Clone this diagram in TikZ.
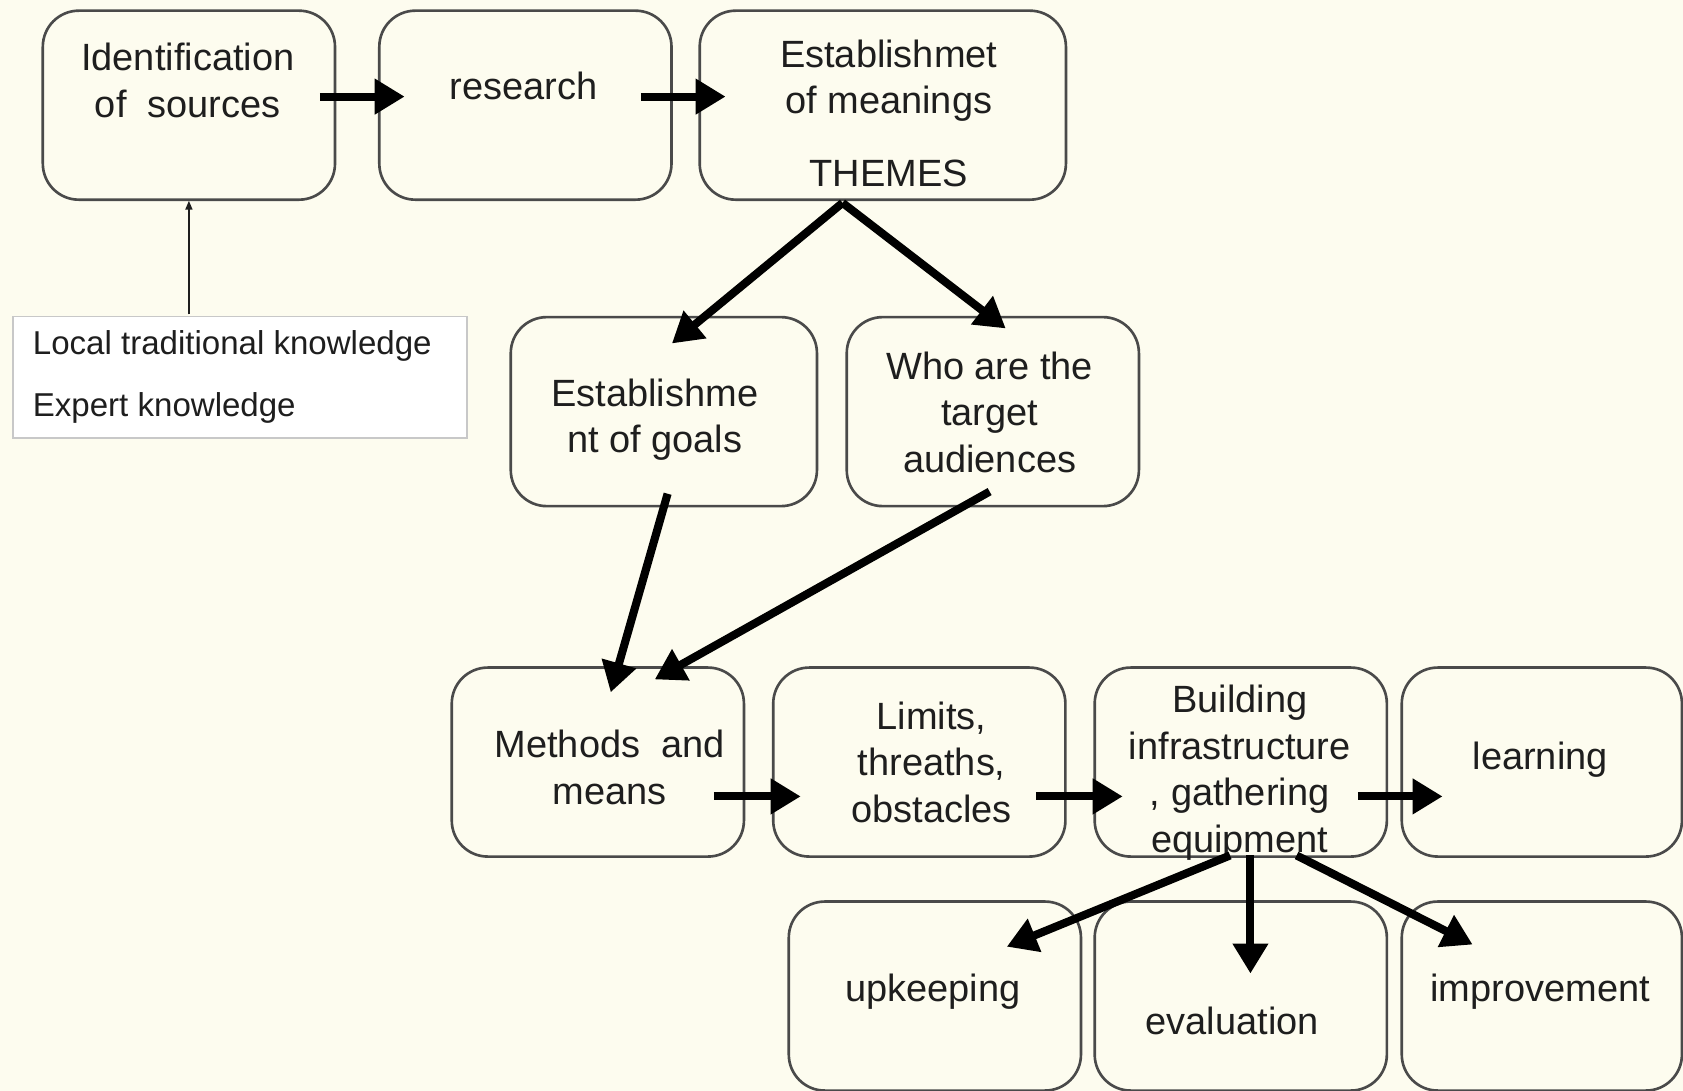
\documentclass[tikz,border=0pt]{standalone}
\usepackage{fontspec}
\setmainfont{Liberation Sans}
\usetikzlibrary{arrows.meta}
\definecolor{paper}{HTML}{FDFCEF}
\definecolor{edge}{HTML}{4A4A4A}
\definecolor{faint}{HTML}{C8C8C8}
\definecolor{ink}{HTML}{1E1E1E}
\begin{document}
\begin{tikzpicture}[x=0.010733cm,y=-0.010733cm,
  stage/.style={draw=edge, line width=0.75pt, rounded corners=0.36cm,
    minimum height=1.889cm, inner sep=0pt},
  w272/.style={minimum width=2.92cm},
  w261/.style={minimum width=2.80cm},
  label/.style={text=ink, align=center, inner sep=0pt,
    font=\fontsize{10.8}{13.2}\selectfont},
  note/.style={text=ink, align=left, inner sep=0pt, anchor=west,
    font=\fontsize{9.4}{11}\selectfont},
  flow/.style={draw=black, line width=2.3pt,
    -{Triangle[length=0.30cm,width=0.34cm]}},
  feed/.style={draw=ink, line width=0.5pt,
    -{Triangle[length=0.09cm,width=0.07cm]}},
]
% page
\fill[paper] (0,0) rectangle (1568,1016);
\useasboundingbox (0,0) rectangle (1568,1016);
\clip (0,0) rectangle (1568,1016);

% --- top row
\node[stage, w272] (src) at (176,98) {};
\node[stage, w272] (res) at (489.5,98) {};
\node[stage, minimum width=3.66cm] (mean) at (822.5,98) {};
\node[label] (srcT) at (175,75) {Identification\\of\ \ sources};
\node[label] (resT) at (488,80) {research};
\node[label] (meanT) at (828,75) {Establishmet\\of meanings};
\node[label] (themT) at (828,162) {THEMES};

% --- knowledge inputs
\node[draw=faint, fill=white, line width=0.5pt, minimum width=4.54cm,
  minimum height=1.213cm, inner sep=0pt] (know) at (223.5,351.5) {};
\node[note] (knowA) at (30,322) {Local traditional knowledge};
\node[note] (knowB) at (30,380) {Expert knowledge};

% --- second row
\node[stage, minimum width=3.06cm] (goal) at (618.5,383.5) {};
\node[stage, w272] (aud) at (925,383.5) {};
\node[label] (goalT) at (610,391) {Establishme\\nt of goals};
\node[label] (audT) at (922,384) {Who are the\\target\\audiences};

% --- third row
\node[stage, w272] (meth) at (557,710) {};
\node[stage, w272] (lim) at (856.5,710) {};
\node[stage, w272] (build) at (1156,710) {};
\node[stage, w261] (learn) at (1436.5,710) {};
\node[label] (methT) at (568,715) {Methods\ \ and\\means};
\node[label] (limT) at (868,710) {Limits,\\threaths,\\obstacles};
\node[label] (buildT) at (1155,720) {Building\\infrastructure\\, gathering\\equipment};
\node[label] (learnT) at (1435,708) {learning};

% --- bottom row
\node[stage, w272] (upk) at (871,928) {};
\node[stage, w272] (eval) at (1156,928) {};
\node[stage, w261] (impr) at (1436.5,928) {};
\node[label] (upkT) at (869,924) {upkeeping};
\node[label] (evalT) at (1148,951) {evaluation};
\node[label] (imprT) at (1435,924) {improvement};

% --- arrow end points
\coordinate (a1s) at (298,90);   \coordinate (a1e) at (377,90);
\coordinate (a2s) at (597,90);   \coordinate (a2e) at (676,90);
\coordinate (th)  at (785,189);
\coordinate (thG) at (626,320);  \coordinate (thA) at (937,306);
\coordinate (gS)  at (622,460);  \coordinate (gE)  at (569,645);
\coordinate (aS)  at (922,458);  \coordinate (aE)  at (610,633);
\coordinate (m1s) at (665,742);  \coordinate (m1e) at (746,742);
\coordinate (m2s) at (965,742);  \coordinate (m2e) at (1046,742);
\coordinate (m3s) at (1265,742); \coordinate (m3e) at (1344,742);
\coordinate (bU)  at (1146,797); \coordinate (uE)  at (938,882);
\coordinate (bV)  at (1165,797); \coordinate (vE)  at (1165,907);
\coordinate (bI)  at (1208,797); \coordinate (iE)  at (1372,880);
\coordinate (kS)  at (176,293);  \coordinate (kE)  at (176,187);

% --- connectors
\draw[feed] (kS) -- (kE);
\draw[flow] (a1s) -- (a1e);
\draw[flow] (a2s) -- (a2e);
\draw[flow] (th) -- (thG);
\draw[flow] (th) -- (thA);
\draw[flow] (gS) -- (gE);
\draw[flow] (aS) -- (aE);
\draw[flow] (m1s) -- (m1e);
\draw[flow] (m2s) -- (m2e);
\draw[flow] (m3s) -- (m3e);
\draw[flow] (bU) -- (uE);
\draw[flow] (bV) -- (vE);
\draw[flow] (bI) -- (iE);
\end{tikzpicture}
\end{document}
